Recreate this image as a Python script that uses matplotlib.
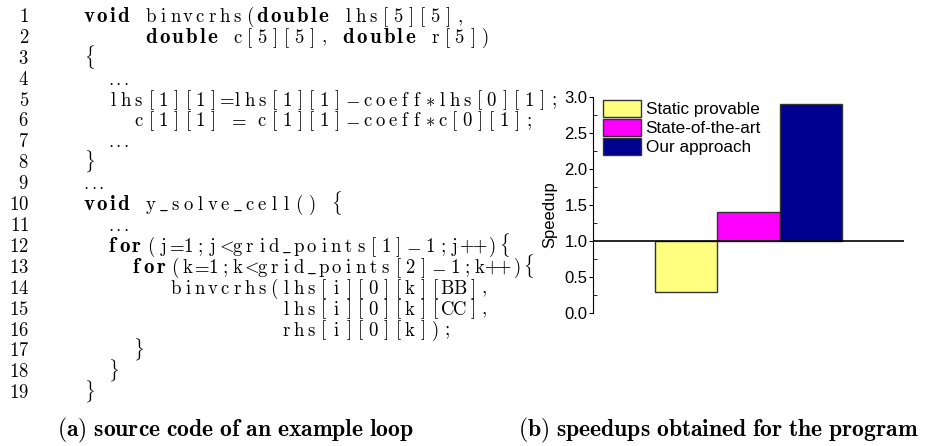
import re
import numpy as np
import matplotlib
matplotlib.use("Agg")
import matplotlib.pyplot as plt
from matplotlib.patches import Patch

plt.rcParams["mathtext.fontset"] = "cm"

W, H = 928, 446

# listing shown in panel (a)
code_lines = [
    "void binvcrhs(double lhs[5][5],",
    "     double c[5][5], double r[5])",
    "{",
    "  ...",
    "  lhs[1][1]=lhs[1][1]-coeff*lhs[0][1];",
    "    c[1][1] = c[1][1]-coeff*c[0][1];",
    "  ...",
    "}",
    "...",
    "void y_solve_cell() {",
    "  ...",
    "  for(j=1;j<grid_points[1]-1;j++){",
    "    for(k=1;k<grid_points[2]-1;k++){",
    "       binvcrhs(lhs[i][0][k][BB],",
    "                lhs[i][0][k][CC],",
    "                rhs[i][0][k]);",
    "    }",
    "  }",
    "}",
]
keywords = ["void", "double", "for"]
captions = ["(a) source code of an example loop", "(b) speedups obtained for the program"]

# panel (b)
methods = ["Static provable", "State-of-the-art", "Our approach"]
speedup = [0.29, 1.40, 2.90]
colors = ["#ffff80", "#ff00ff", "#000090"]
baseline = 1.0

fig = plt.figure(figsize=(W / 100, H / 100), dpi=100)
tax = fig.add_axes([0, 0, 1, 1])
tax.set_xlim(0, W); tax.set_ylim(H, 0); tax.axis("off")
renderer = fig.canvas.get_renderer()

CODE_FS, KW_FS = 13.5, 15.0
X0, Y0, DY = 83, 22, 20.9
COL = 12.35          # listings-style column width
GAP_B = 0.6
kw_cols = {"void": 4, "double": 6, "for": 3}
wide_cols = {"-": 1.6}
esc = {"{": r"\{", "}": r"\}", "_": r"\_", "*": r"\ast"}


def put(x, y, s, bold=False, fs=CODE_FS, ha="center"):
    s = r"$\mathbf{%s}$" % s if bold else r"$\mathrm{%s}$" % s
    t = tax.text(x, y, s, fontsize=fs, va="baseline", ha=ha)
    return t.get_window_extent(renderer).width


tok_re = re.compile(r"\b(?:%s)\b|\.\.\.|." % "|".join(keywords))
for i, line in enumerate(code_lines):
    y = Y0 + i * DY
    tax.text(29, y, r"$\mathrm{%d}$" % (i + 1), fontsize=CODE_FS, va="baseline", ha="right")
    x = X0
    for tok in tok_re.findall(line):
        if tok in keywords:
            xc = x
            for ch in tok:
                xc += put(xc, y, ch, bold=True, fs=KW_FS, ha="left") + GAP_B
            x += kw_cols[tok] * COL
        elif tok == "...":
            for k in range(3):
                put(x + 3 + 7.5 * k, y, ".")
            x += 3 * COL
        elif tok != " ":
            w = wide_cols.get(tok, 1) * COL
            put(x + w / 2, y, esc.get(tok, tok))
            x += w
        else:
            x += COL

for cx, cap in zip([57, 518], captions):
    tax.text(cx, 436, r"$\mathbf{%s}$" % cap.replace(" ", r"\ "), fontsize=17, va="baseline")

# speedup bars, drawn relative to the 1.0 baseline
ax = fig.add_axes([593 / W, (H - 313) / H, 311 / W, 216 / H])
pos = np.arange(len(speedup)) + 1.5
for p, v, c in zip(pos, speedup, colors):
    ax.bar(p, v - baseline, bottom=baseline, width=1.0, color=c, edgecolor="#333333", linewidth=1.0)
ax.axhline(baseline, color="black", lw=1.2)
ax.set_xlim(0, 5); ax.set_ylim(0, 3)
ticks = np.arange(0, 3.01, 0.5)
ax.set_yticks(ticks)
ax.set_yticks(np.arange(0, 3.01, 0.25), minor=True)
ax.set_yticklabels(["%.1f" % v for v in ticks])
ax.set_xticks([])
for s in ["top", "right", "bottom"]:
    ax.spines[s].set_visible(False)
ax.spines["left"].set_linewidth(0.8)
ax.tick_params(axis="y", which="major", direction="out", length=3, pad=1, labelsize=12)
ax.tick_params(axis="y", which="minor", direction="in", length=3)
for lab in ax.get_yticklabels():
    lab.set_fontfamily("Liberation Sans")
ax.set_ylabel("Speedup", fontsize=12, family="Liberation Sans")
ax.yaxis.set_label_coords(-0.116, 0.455)
ax.patch.set_alpha(0)

handles = [Patch(facecolor=c, edgecolor="#333333", linewidth=1.0) for c in colors]
ax.legend(handles, methods, loc="upper left", bbox_to_anchor=(0.032, 0.985), frameon=False,
          borderpad=0, borderaxespad=0, handlelength=2.2, handleheight=1.1,
          labelspacing=0.12, handletextpad=0.3, prop={"family": "Liberation Sans", "size": 12.3})

fig.savefig("out.png", dpi=100)
